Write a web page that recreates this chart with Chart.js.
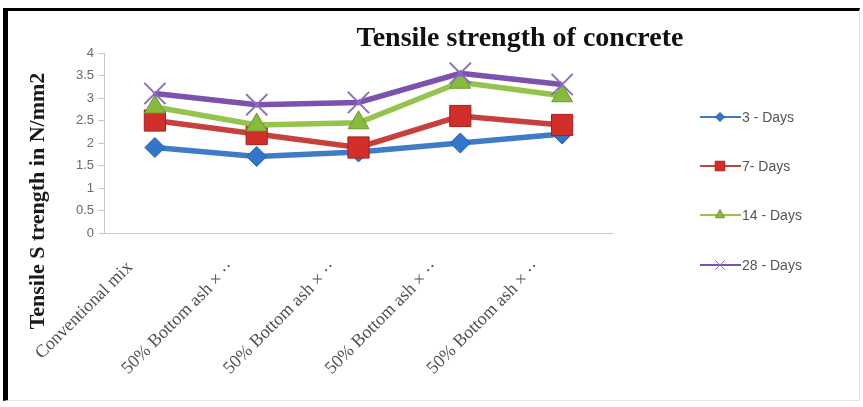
<!DOCTYPE html>
<html>
<head>
<meta charset="utf-8">
<script src="https://cdn.jsdelivr.net/npm/chart.js@4/dist/chart.umd.min.js"></script>
<style>
  html, body { margin: 0; padding: 0; background: #fff; }
  #wrap { position: relative; width: 863px; height: 407px; }
  #frame {
    position: absolute; left: 3px; top: 8px; width: 857px; height: 393px;
    box-sizing: border-box;
    border-top: 3px solid #000; border-left: 5px solid #000;
    border-right: 1px solid #e2e2e2; border-bottom: 1px solid #e2e2e2;
    pointer-events: none;
  }
  canvas { position: absolute; left: 0; top: 0; }
</style>
</head>
<body>
<div id="wrap">
  <canvas id="chart" width="863" height="407"></canvas>
  <div id="frame"></div>
</div>
<script>
// mixes on the x axis
const categories = [
  'Conventional mix',
  '50% Bottom ash \u00d7 \u00b7\u00b7',
  '50% Bottom ash \u00d7 \u00b7\u00b7',
  '50% Bottom ash \u00d7 \u00b7\u00b7',
  '50% Bottom ash \u00d7 \u00b7\u00b7'
];

// tensile strength (N/mm2) per curing age
const days3  = [1.9, 1.7, 1.8, 2.0, 2.2];
const days7  = [2.5, 2.2, 1.9, 2.6, 2.4];
const days14 = [2.8, 2.4, 2.45, 3.35, 3.05];
const days28 = [3.1, 2.85, 2.9, 3.55, 3.3];

const seriesNames = ['3 - Days', '7- Days', '14 - Days', '28 - Days'];
const yTicks = [0, 0.5, 1, 1.5, 2, 2.5, 3, 3.5, 4];

const styles = [
  { line: '#3f7cc6', fill: '#3275cc', edge: '#2a5f9e', shape: 'rectRot', r: 10, bw: 1 },
  { line: '#c8403b', fill: '#d22f2a', edge: '#a5231f', shape: 'rect',    r: 15, bw: 1 },
  { line: '#94c34e', fill: '#86bb3c', edge: '#6b9a2c', shape: 'triangle', r: 12, bw: 1 },
  { line: '#7c52ae', fill: '#7c52ae', edge: '#8a6cc0', shape: 'crossRot', r: 15, bw: 2 }
];

const allValues = [days3, days7, days14, days28];

const datasets = allValues.map((vals, i) => ({
  label: seriesNames[i],
  data: vals,
  borderColor: styles[i].line,
  borderWidth: 5.5,
  pointStyle: styles[i].shape,
  pointRadius: styles[i].r,
  pointBackgroundColor: styles[i].fill,
  pointBorderColor: styles[i].edge,
  pointBorderWidth: styles[i].bw,
  tension: 0,
  order: 4 - i   // later ages sit on top
}));

// title, y-axis caption and the right-hand legend
const decorations = {
  id: 'decorations',
  afterDraw(chart) {
    const ctx = chart.ctx;
    ctx.save();
    ctx.fillStyle = '#111';
    ctx.font = 'bold 28px "Liberation Serif"';
    ctx.textAlign = 'center';
    ctx.textBaseline = 'middle';
    ctx.fillText('Tensile strength of concrete', 520, 39);

    ctx.translate(38, 201);
    ctx.rotate(-Math.PI / 2);
    ctx.font = 'bold 22px "Liberation Serif"';
    ctx.fillStyle = '#1a1a1a';
    ctx.fillText('Tensile S trength in N/mm2', 0, 0);
    ctx.restore();

    // legend: short line with marker, then the name
    const rows = [117, 166, 215, 265];
    chart.data.datasets.forEach((ds, i) => {
      const y = rows[i];
      ctx.save();
      ctx.strokeStyle = ds.borderColor;
      ctx.lineWidth = 2;
      ctx.beginPath();
      ctx.moveTo(700, y);
      ctx.lineTo(741, y);
      ctx.stroke();
      ctx.fillStyle = ds.pointBackgroundColor;
      ctx.strokeStyle = ds.pointBorderColor;
      ctx.lineWidth = 1;
      Chart.helpers.drawPoint(ctx, { pointStyle: ds.pointStyle, radius: ds.pointRadius * 0.45, rotation: 0, borderWidth: 1 }, 720, y);
      ctx.fillStyle = '#555';
      ctx.font = '14px "Liberation Sans"';
      ctx.textAlign = 'left';
      ctx.textBaseline = 'middle';
      ctx.fillText(ds.label, 742, y + 1);
      ctx.restore();
    });
  }
};

new Chart(document.getElementById('chart'), {
  type: 'line',
  data: { labels: categories, datasets },
  plugins: [decorations],
  options: {
    responsive: false,
    animation: false,
    layout: { padding: { left: 20, right: 250, top: 53, bottom: 10 } },
    plugins: {
      legend: { display: false },
      tooltip: { enabled: false },
      title: { display: false }
    },
    scales: {
      x: {
        offset: true,
        grid: { display: false, drawTicks: false },
        border: { display: true, color: '#c8c8c8', width: 1 },
        ticks: {
          autoSkip: false,
          minRotation: 45,
          maxRotation: 45,
          padding: 24,
          labelOffset: -25,
          color: '#505050',
          font: { family: '"Liberation Serif"', size: 18 }
        },
        afterFit(scale) { scale.height = 407 - 233 - 10; }
      },
      y: {
        min: 0,
        max: 4,
        afterBuildTicks(scale) { scale.ticks = yTicks.map(v => ({ value: v })); },
        grid: { drawOnChartArea: false, drawTicks: true, tickLength: 6, color: '#c8c8c8' },
        border: { display: true, color: '#c8c8c8', width: 1 },
        ticks: {
          padding: 4,
          color: '#6a6a6a',
          font: { family: '"Liberation Sans"', size: 13 },
          callback: v => String(v)
        },
        afterFit(scale) { scale.width = 84; }
      }
    }
  }
});
</script>
</body>
</html>
